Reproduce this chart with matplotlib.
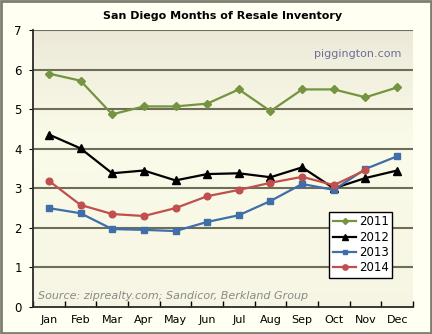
import numpy as np
import matplotlib
matplotlib.use("Agg")
import matplotlib.pyplot as plt
from matplotlib.patches import Rectangle

months = ["Jan", "Feb", "Mar", "Apr", "May", "Jun",
          "Jul", "Aug", "Sep", "Oct", "Nov", "Dec"]
inv_2011 = [5.90, 5.72, 4.87, 5.07, 5.07, 5.14, 5.50, 4.95, 5.50, 5.50, 5.30, 5.55]
inv_2012 = [4.36, 4.01, 3.38, 3.45, 3.20, 3.36, 3.38, 3.28, 3.53, 3.00, 3.26, 3.45]
inv_2013 = [2.50, 2.37, 1.97, 1.95, 1.92, 2.15, 2.32, 2.68, 3.11, 2.96, 3.49, 3.81]
inv_2014 = [3.19, 2.58, 2.35, 2.30, 2.50, 2.80, 2.96, 3.14, 3.29, 3.08, 3.46]

fig = plt.figure(figsize=(4.32, 3.34), dpi=100, facecolor="#fffff2")
# outer frame
fig.patches.append(Rectangle((0.002, 0.003), 0.995, 0.994, transform=fig.transFigure,
                             fill=False, edgecolor="#7d7d70", linewidth=2))

ax = fig.add_axes([0.0764, 0.0808, 0.8796, 0.8292])

# beige gradient background of the plot area
grad = np.concatenate([np.linspace(0, 1, 40), np.linspace(1, 0.7, 60)])[:, None]
c_dark = np.array([0xec, 0xe9, 0xd8]) / 255
c_light = np.array([0xfb, 0xfb, 0xe9]) / 255
img = c_dark + grad[..., None] * (c_light - c_dark)
ax.imshow(img, extent=[0, 1, 0, 1], transform=ax.transAxes, aspect="auto", zorder=0)

x = np.arange(len(months))
ax.set_xlim(-0.5, 11.5)
ax.set_ylim(0, 7)

for yv in range(1, 8):
    ax.axhline(yv, color="#6e6d58", linewidth=1.5, zorder=1)

lw = 1.6
ax.plot(x, inv_2011, color="#74943f", marker="D", markersize=3.8, linewidth=lw, label="2011", zorder=3)
ax.plot(x, inv_2012, color="black", marker="^", markersize=5.5, linewidth=lw, label="2012", zorder=3)
ax.plot(x, inv_2013, color="#3f6ea8", marker="s", markersize=4.2, linewidth=lw, label="2013", zorder=3)
ax.plot(x[:len(inv_2014)], inv_2014, color="#c0504d", marker="o", markersize=4.8, linewidth=lw,
        label="2014", zorder=3)

ax.set_xticks(x)
ax.set_xticklabels(months)
ax.set_xticks(np.arange(-0.5, 12, 1), minor=True)
ax.tick_params(axis="x", which="major", length=0, labelsize=8, pad=6)
ax.tick_params(axis="x", which="minor", length=4, direction="in", width=1, color="black")
ax.set_yticks(range(0, 8))
ax.tick_params(axis="y", length=3, labelsize=8.5, pad=5, direction="out")

for s in ["top", "right"]:
    ax.spines[s].set_visible(False)
ax.spines["left"].set_color("#2a2a2a")
ax.spines["left"].set_linewidth(1.3)
ax.spines["bottom"].set_color("#2a2a2a")
ax.spines["bottom"].set_linewidth(1.3)

ax.set_title("San Diego Months of Resale Inventory", fontsize=8, fontweight="bold", pad=8)
ax.text(0.97, 0.915, "piggington.com", transform=ax.transAxes, ha="right", va="center",
        fontsize=8, color="#6e6e9a")
ax.text(0.012, 0.04, "Source: ziprealty.com; Sandicor, Berkland Group", transform=ax.transAxes,
        ha="left", va="center", fontsize=8, style="italic", color="#8a8a84")

leg = ax.legend(loc="lower right", bbox_to_anchor=(0.945, 0.105), fontsize=8.5, frameon=True,
                fancybox=False, handlelength=2.0, handletextpad=0.2, borderpad=0.3,
                labelspacing=0.2, borderaxespad=0, markerscale=0.8)
leg.get_frame().set_edgecolor("black")
leg.get_frame().set_linewidth(1)
leg.get_frame().set_facecolor("white")
leg.get_frame().set_alpha(1)

fig.savefig("out.png", dpi=100, facecolor=fig.get_facecolor())
